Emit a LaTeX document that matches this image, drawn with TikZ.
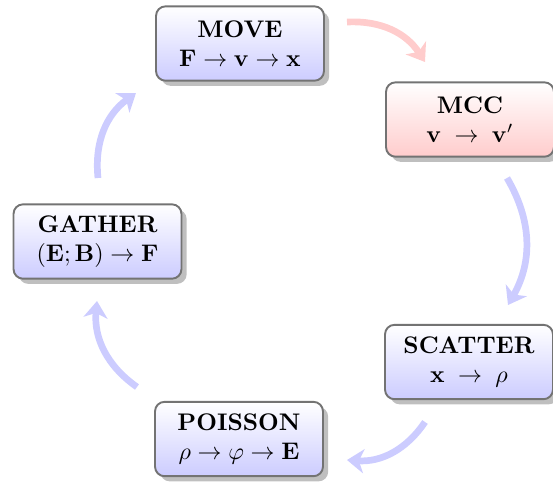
\documentclass[tikz,border=0pt]{standalone}
\usetikzlibrary{shadows,arrows.meta}
\begin{document}
\begin{tikzpicture}[x=0.4167pt,y=-0.4167pt]
\tikzset{
  stagebox/.style={draw=black!55, line width=0.8pt, rounded corners=4pt,
    top color=white, bottom color=blue!20, drop shadow, align=center,
    minimum width=70pt, minimum height=31pt, inner sep=4pt, font=\bfseries},
  hotbox/.style={stagebox, bottom color=red!20},
  cycarrow/.style={draw=blue!20, line width=2.8pt,
    -{Stealth[length=7pt,width=10pt,inset=2pt]}, bend left=30},
  hotarrow/.style={cycarrow, draw=red!20},
}
\useasboundingbox (0,0) rectangle (553,483);

% the five stages of the particle-in-cell loop
\node[stagebox] (move)    at (240,43.5) {MOVE\\ $\mathbf{F}\to\mathbf{v}\to\mathbf{x}$};
\node[hotbox]   (mcc)     at (470,119.5) {MCC\\ $\mathbf{v}\;\to\;\mathbf{v}'$};
\node[stagebox] (scatter) at (469,362) {SCATTER\\ $\mathbf{x}\;\to\;\rho$};
\node[stagebox] (poisson) at (239,439) {POISSON\\ $\rho\to\varphi\to\mathbf{E}$};
\node[stagebox] (gather)  at (97.5,241.5) {GATHER\\ $\mathbf{(E;B)}\to\mathbf{F}$};

% end points of the curved connectors
\coordinate (m1) at (347,22);  \coordinate (m2) at (425,62);
\coordinate (c1) at (507,178); \coordinate (c2) at (508,305);
\coordinate (s1) at (425,422); \coordinate (s2) at (347,460);
\coordinate (p1) at (137,387); \coordinate (p2) at (97,301);
\coordinate (g1) at (98,178);  \coordinate (g2) at (136,93);

\draw[hotarrow] (m1) to (m2);
\draw[cycarrow] (c1) to (c2);
\draw[cycarrow] (s1) to (s2);
\draw[cycarrow] (p1) to (p2);
\draw[cycarrow] (g1) to (g2);
\end{tikzpicture}
\end{document}
